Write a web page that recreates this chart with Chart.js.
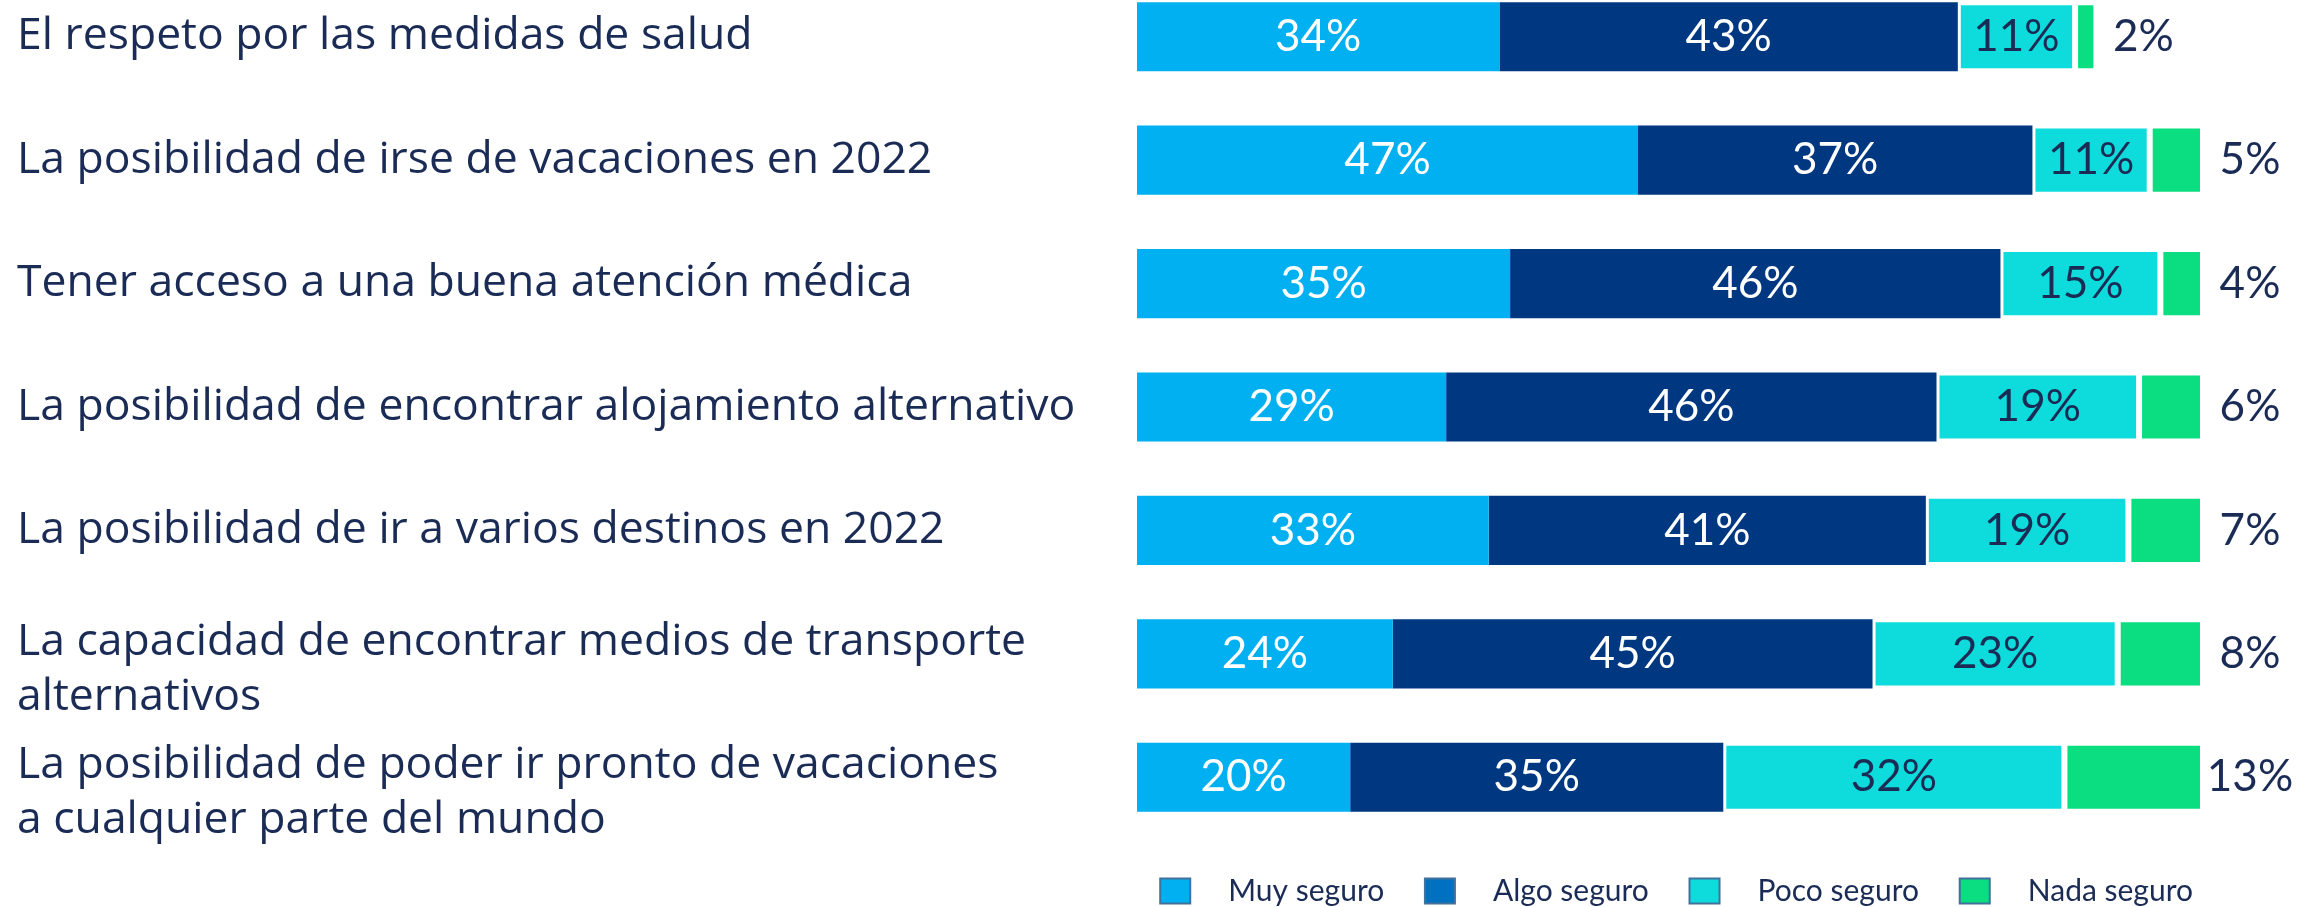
<!DOCTYPE html>
<html lang="es">
<head>
<meta charset="UTF-8">
<title>Seguridad al viajar</title>
<script src="https://cdn.jsdelivr.net/npm/chart.js@4.4.0/dist/chart.umd.min.js"></script>
<style>
  html, body { margin: 0; padding: 0; background: #fff; overflow: hidden; }
  #wrap { position: absolute; left: 0; top: -25px; width: 2297px; height: 941px; }
</style>
</head>
<body>
<div id="wrap"><canvas id="chart"></canvas></div>
<script>
const categories = [
  'El respeto por las medidas de salud',
  'La posibilidad de irse de vacaciones en 2022',
  'Tener acceso a una buena atención médica',
  'La posibilidad de encontrar alojamiento alternativo',
  'La posibilidad de ir a varios destinos en 2022',
  ['La capacidad de encontrar medios de transporte', 'alternativos'],
  ['La posibilidad de poder ir pronto de vacaciones', 'a cualquier parte del mundo']
];
const seriesNames = ['Muy seguro', 'Algo seguro', 'Poco seguro', 'Nada seguro'];
const muySeguro  = [34, 47, 35, 29, 33, 24, 20];
const algoSeguro = [43, 37, 46, 46, 41, 45, 35];
const pocoSeguro = [11, 11, 15, 19, 19, 23, 32];
const nadaSeguro = [2, 5, 4, 6, 7, 8, 13];

const textColor = '#1a2b55';
const barColors = ['#00b0f0', '#003781', '#0edcdc', '#0bde80'];
const legendColors = ['#00b0f0', '#0070c0', '#0edcdc', '#0bde80'];

// percentage labels: inside the first three segments, outside the last one
const valueLabels = {
  id: 'valueLabels',
  afterDatasetsDraw(chart) {
    const ctx = chart.ctx;
    ctx.save();
    ctx.font = '44px Lato';
    ctx.textBaseline = 'middle';
    ctx.textAlign = 'center';
    chart.data.datasets.forEach((ds, i) => {
      chart.getDatasetMeta(i).data.forEach((bar, j) => {
        const txt = ds.data[j] + '%';
        if (i === 3) {
          ctx.fillStyle = textColor;
          ctx.fillText(txt, bar.x + 47, bar.y);
        } else {
          ctx.fillStyle = i === 2 ? textColor : '#ffffff';
          ctx.fillText(txt, (bar.x + bar.base) / 2, bar.y);
        }
      });
    });
    ctx.restore();
  }
};

// category labels, left aligned; two-line ones sit a bit lower like in the original
const categoryLabels = {
  id: 'categoryLabels',
  afterDraw(chart) {
    const ctx = chart.ctx;
    const scale = chart.scales.y;
    ctx.save();
    ctx.font = '44.5px "Open Sans"';
    ctx.fillStyle = textColor;
    ctx.textAlign = 'left';
    ctx.textBaseline = 'middle';
    categories.forEach((lab, i) => {
      const y = scale.getPixelForTick(i);
      if (Array.isArray(lab)) {
        ctx.fillText(lab[0], scale.left, y - 12);
        ctx.fillText(lab[1], scale.left, y + 43);
      } else {
        ctx.fillText(lab, scale.left, y);
      }
    });
    ctx.restore();
  }
};

const allData = [muySeguro, algoSeguro, pocoSeguro, nadaSeguro];

new Chart(document.getElementById('chart'), {
  type: 'bar',
  data: {
    labels: categories,
    datasets: allData.map((d, i) => ({
      label: seriesNames[i],
      data: d,
      backgroundColor: barColors[i],
      borderColor: '#ffffff',
      borderWidth: i >= 2 ? 3 : 0,
      borderSkipped: false,
      barPercentage: 0.56,
      categoryPercentage: 1
    }))
  },
  options: {
    indexAxis: 'y',
    responsive: true,
    maintainAspectRatio: false,
    animation: false,
    layout: { padding: { left: 17, right: 94, top: 0, bottom: 0 } },
    scales: {
      x: { stacked: true, min: 0, max: 100, display: false },
      y: {
        stacked: true,
        grid: { display: false },
        border: { display: false },
        afterFit(scale) {
          scale.width = 1120;
          scale.paddingTop = 0;
          scale.paddingBottom = 0;
        },
        ticks: { display: false }
      }
    },
    plugins: {
      tooltip: { enabled: false },
      legend: {
        position: 'bottom',
        align: 'end',
        // empty title only adds room between bars and legend row
        title: { display: true, text: '', font: { size: 5 }, padding: { top: 21, bottom: 0 } },
        labels: {
          color: textColor,
          font: { family: 'Lato', size: 30 },
          boxWidth: 30,
          boxHeight: 25,
          padding: 10,
          generateLabels() {
            return seriesNames.map((n, i) => ({
              text: '   ' + n + (i < 3 ? '    ' : ''),
              fillStyle: legendColors[i],
              strokeStyle: '#41719c',
              lineWidth: 2,
              fontColor: textColor,
              hidden: false,
              datasetIndex: i
            }));
          }
        }
      }
    }
  },
  plugins: [valueLabels, categoryLabels]
});
</script>
</body>
</html>
